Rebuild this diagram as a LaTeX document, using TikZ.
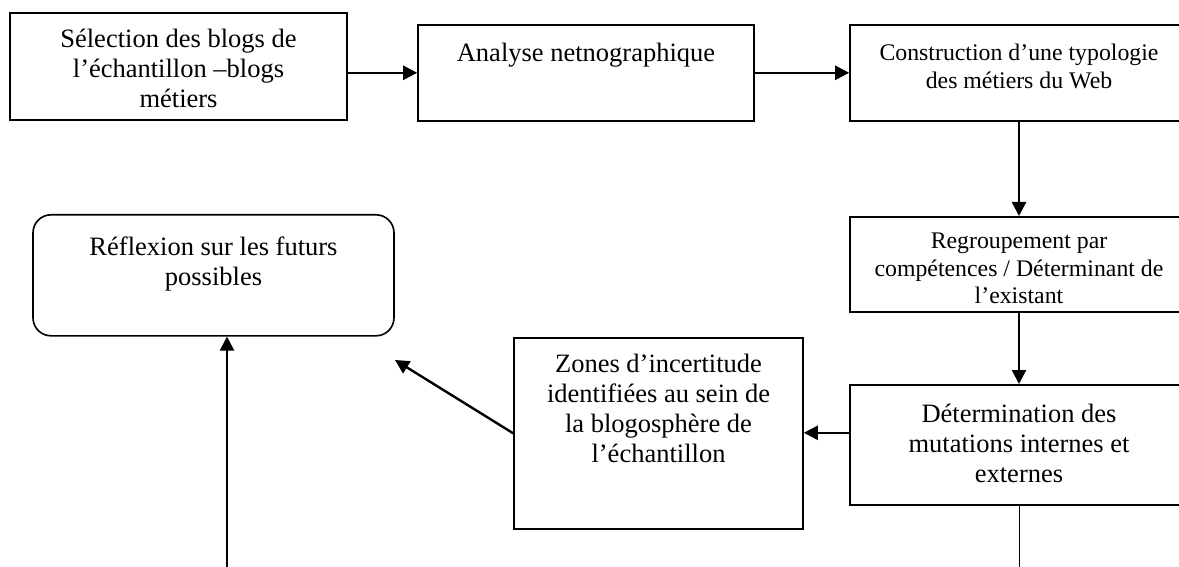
\documentclass[tikz,border=0pt]{standalone}
\usepackage{fontspec}
\setmainfont{Liberation Serif}
\usetikzlibrary{arrows.meta}

\tikzset{
  etape/.style={draw, line width=0.8pt, inner sep=0pt, align=center,
    font=\fontsize{13.25}{15}\selectfont, anchor=north},
  petit/.style={font=\fontsize{11.9}{13.75}\selectfont},
  fleche/.style={line width=1.2pt, -{Triangle[length=7pt,width=7pt]}},
}

\begin{document}
\begin{tikzpicture}[x=0.5pt,y=0.5pt,yscale=-1,xscale=1]
  \useasboundingbox (0,0) rectangle (1179,567);
  \clip (0,0) rectangle (1179,567);

  \node [etape, minimum width=168.5pt, text height=47.5pt, text depth=6pt] (selection) at (178.5,12) {S\'election des blogs de\\l’\'echantillon –blogs\\m\'etiers};
  \node [etape, minimum width=168pt, text height=18.5pt, text depth=29.5pt] (analyse) at (586,24) {Analyse netnographique};
  \node [etape, petit, minimum width=169pt, text height=31.75pt, text depth=16.25pt] (construction) at (1019,24) {Construction d’une typologie\\des m\'etiers du Web};
  \node [etape, petit, minimum width=169pt, text height=43.5pt, text depth=4pt] (regroupement) at (1019,216) {Regroupement par\\comp\'etences / D\'eterminant de\\l’existant};
  \node [etape, minimum width=169pt, text height=49pt, text depth=11pt] (determination) at (1019,384) {D\'etermination des\\mutations internes et\\externes};
  \node [etape, minimum width=144.5pt, text height=62.5pt, text depth=33pt] (zones) at (658.5,337) {Zones d’incertitude\\identifi\'ees au sein de\\la blogosph\`ere de\\l’\'echantillon};
  \node [etape, rounded corners=9pt, minimum width=180.5pt, text height=35.5pt, text depth=25pt] (reflexion) at (213.5,214) {R\'eflexion sur les futurs\\possibles};

  \coordinate (vers) at (395,360);
  \coordinate (bas) at (227,580);
  \coordinate (suite) at (1019,580);

  \draw [fleche] (selection.east |- analyse.west) -- (analyse.west);
  \draw [fleche] (analyse.east) -- (construction.west);
  \draw [fleche] (construction.south) -- (regroupement.north);
  \draw [fleche] (regroupement.south) -- (determination.north);
  \draw [fleche] ([yshift=-6pt]determination.west) -- ([yshift=-6pt]determination.west -| zones.east);
  \draw [fleche] (zones.west) -- (vers);
  \draw [fleche] (bas) -- (bas |- reflexion.south);
  \draw [line width=0.5pt] (determination.south) -- (suite);
\end{tikzpicture}
\end{document}
